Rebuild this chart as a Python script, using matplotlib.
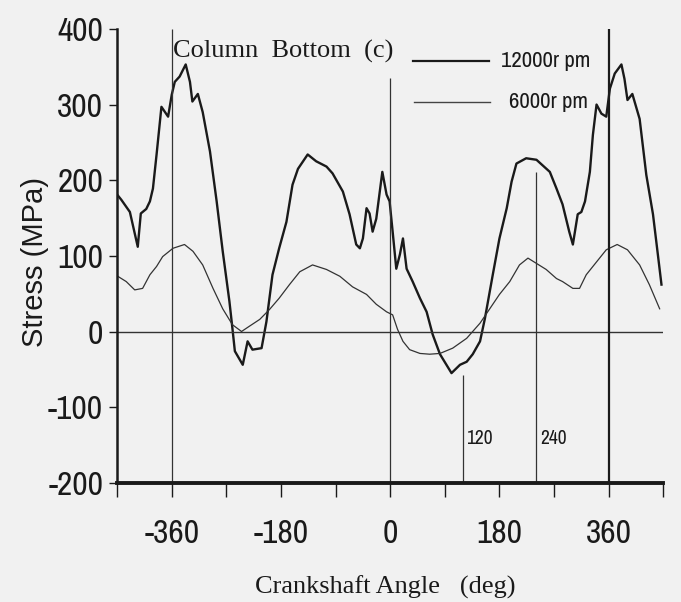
import matplotlib
matplotlib.use("Agg")
import matplotlib.pyplot as plt

plt.rcParams["axes.unicode_minus"] = False

# 12000 rpm trace (deg, MPa)
ang_12000 = [-450, -443, -429, -416, -411, -402, -396, -391, -385, -377, -366, -360,
             -355, -347, -337, -330, -326, -317, -309, -297, -286, -276, -265, -260,
             -256, -243, -235, -227, -212, -204, -194, -183, -171, -161, -152, -136,
             -122, -105, -95, -78, -67, -56, -50, -45, -39, -34, -29, -23, -13, -6,
             -1, 4, 10, 16, 21, 27, 37, 49, 60, 70, 82, 101, 115, 126, 136, 148, 156,
             169, 180, 192, 200, 208, 224, 241, 263, 274, 284, 295, 301, 309, 315,
             321, 329, 334, 340, 348, 356, 362, 370, 381, 386, 391, 399, 411, 422,
             433, 441, 447]
stress_12000 = [181, 174, 158, 112, 156, 162, 172, 189, 234, 297, 284, 313,
                330, 337, 353, 330, 304, 314, 290, 238, 172, 106, 40, 4,
                -26, -44, -13, -24, -22, 13, 75, 110, 145, 194, 215, 234,
                225, 218, 209, 185, 155, 115, 110, 123, 163, 156, 132, 149, 211, 181,
                172, 132, 83, 102, 123, 83, 66, 44, 26, -4, -30, -55, -44, -40, -30, -13, 17,
                75, 123, 163, 198, 222, 229, 227, 211, 189, 168, 132, 115, 155, 158,
                172, 211, 260, 300, 288, 284, 321, 341, 353, 334, 306, 314, 281, 207,
                155, 102, 62]

# 6000 rpm trace (deg, MPa)
ang_6000 = [-449, -435, -421, -408, -396, -385, -375, -358, -339, -325, -309, -292,
            -276, -260, -245, -232, -215, -199, -183, -166, -149, -128, -105, -83,
            -62, -39, -23, -6, 4, 12, 21, 32, 49, 65, 82, 103, 126, 148, 164, 180,
            197, 213, 227, 241, 257, 274, 284, 301, 312, 323, 340, 356, 374, 391,
            411, 427, 444]
stress_6000 = [73, 66, 55, 57, 75, 86, 99, 110, 115, 106, 88, 57,
               30, 9, 0, 7, 16, 29, 44, 62, 79, 88, 82, 73,
               59, 49, 36, 26, 22, 3, -13, -24, -29, -30, -29, -22, -9, 11, 30, 49,
               66, 88, 97, 90, 82, 70, 66, 57, 57, 75, 92, 108, 115, 108,
               88, 62, 30]

x_ticks = [-450, -360, -270, -180, -90, 0, 90, 180, 270, 360, 450]
x_ticklabels = ["", "-360", "", "-180", "", "0", "", "180", "", "360", ""]
y_ticks = [-200, -100, 0, 100, 200, 300, 400]

narrow = ["Archivo Narrow", "Barlow Condensed", "DejaVu Sans"]
serif = ["Liberation Serif", "DejaVu Serif"]
sans = ["Liberation Sans", "DejaVu Sans"]

bg = "#f1f1f1"
ink = "#1a1a1a"

fig = plt.figure(figsize=(6.81, 6.02), dpi=100, facecolor=bg)
ax = fig.add_axes([0.172, 0.198, 0.802, 0.754])
ax.set_facecolor(bg)

ax.plot(ang_12000, stress_12000, color=ink, lw=1.7, solid_joinstyle="round")
ax.plot(ang_6000, stress_6000, color="#333333", lw=0.9)

# reference lines
ax.axhline(0, color="#333333", lw=1.0)
ax.vlines([-360], -200, 400, color="#333333", lw=0.9)
ax.vlines([0], -200, 335, color="#333333", lw=0.9)
ax.vlines([120], -200, -58, color="#333333", lw=0.9)
ax.vlines([240], -200, 211, color="#333333", lw=0.9)
ax.vlines([360], -200, 402, color=ink, lw=1.6)

ax.text(125, -141, "120", fontsize=14, family=narrow, va="center", color=ink)
ax.text(247, -141, "240", fontsize=14, family=narrow, va="center", color=ink)

ax.text(-358, 370, "Column  Bottom  (c)", fontsize=19, family=serif, va="center", color=ink)
# hand-drawn legend
ax.plot([37, 162], [357, 357], color=ink, lw=1.6)
ax.plot([40, 165], [304, 304], color="#444444", lw=1.0)
ax.text(182, 357, "12000r pm", fontsize=16.5, family=narrow, va="center", color=ink)
ax.text(195, 304, "6000r pm", fontsize=16.5, family=narrow, va="center", color=ink)

ax.set_xlim(-450, 450)
ax.set_ylim(-200, 400)
ax.set_xticks(x_ticks)
ax.set_xticklabels(x_ticklabels)
ax.set_yticks(y_ticks)
ax.tick_params(axis="x", direction="out", length=10, width=1.0, pad=16,
               labelsize=24, colors=ink)
ax.tick_params(axis="y", direction="out", length=6, width=1.0, pad=4,
               labelsize=24, colors=ink)
for lab in ax.get_xticklabels() + ax.get_yticklabels():
    lab.set_family(narrow)

ax.spines["top"].set_visible(False)
ax.spines["right"].set_visible(False)
ax.spines["left"].set_linewidth(1.8)
ax.spines["bottom"].set_linewidth(2.8)
ax.spines["left"].set_color(ink)
ax.spines["bottom"].set_color(ink)

fig.text(0.052, 0.565, "Stress (MPa)", rotation=90, fontsize=21, family=sans,
         ha="center", va="center", color=ink)
fig.text(0.565, 0.025, "Crankshaft Angle   (deg)", fontsize=19, family=serif,
         ha="center", va="center", color=ink)

fig.savefig("out.png", dpi=100, facecolor=bg)
